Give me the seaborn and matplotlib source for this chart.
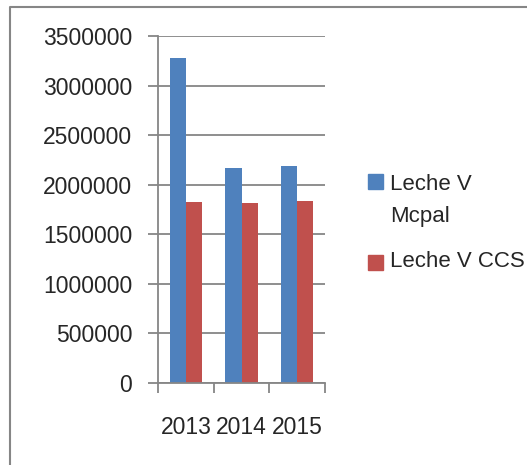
# Leche V - bar chart recreation

import pandas as pd
import matplotlib.pyplot as plt
import seaborn as sns
from matplotlib.patches import Rectangle
from matplotlib.lines import Line2D

# -----------------------------------
# DATA
# -----------------------------------

years = ["2013", "2014", "2015"]
series_names = ["Leche V Mcpal", "Leche V CCS"]
mcpal_values = [3282000, 2166000, 2190000]
ccs_values = [1830000, 1820000, 1836000]
legend_labels = ["Leche V\nMcpal", "Leche V CCS"]
colors = ["#4F81BD", "#C0504D"]

df = pd.DataFrame({
    "year": years * 2,
    "serie": [series_names[0]] * 3 + [series_names[1]] * 3,
    "value": mcpal_values + ccs_values,
})

# -----------------------------------
# STYLE
# -----------------------------------

sns.set_style("white")
plt.rcParams["font.family"] = ["Liberation Sans", "DejaVu Sans"]
grid_color = "#868686"
fs = 16.5
leg_fs = 16

W, H = 527, 465
fig = plt.figure(figsize=(W / 100, H / 100), dpi=100)
ax = fig.add_axes([158 / W, 1 - 383 / H, (325 - 158) / W, (383 - 36) / H])

# -----------------------------------
# BARS
# -----------------------------------

sns.barplot(data=df, x="year", y="value", hue="serie", order=years,
            hue_order=series_names, palette=colors, width=0.575, gap=0,
            saturation=1, linewidth=0, legend=False, ax=ax)

ax.set_ylim(0, 3500000)
ax.set_xlim(-0.5, 2.5)
ax.set_yticks(range(0, 3500001, 500000))
ax.set_yticklabels([str(v) for v in range(0, 3500001, 500000)], fontsize=fs)
ax.set_xticks(range(len(years)))
ax.set_xticklabels(years, fontsize=fs)
ax.set_xticks([-0.5, 0.5, 1.5, 2.5], minor=True)
ax.set_xlabel("")
ax.set_ylabel("")

ax.yaxis.grid(True, color=grid_color, linewidth=1.3)
ax.set_axisbelow(True)
for side in ["top", "right"]:
    ax.spines[side].set_visible(False)
for side in ["left", "bottom"]:
    ax.spines[side].set_color(grid_color)
    ax.spines[side].set_linewidth(1.3)

ax.tick_params(axis="y", which="major", length=7, width=1.3, color=grid_color,
               left=True, pad=11.5)
ax.tick_params(axis="x", which="major", length=0, pad=24)
ax.tick_params(axis="x", which="minor", length=7, width=1.3, color=grid_color,
               bottom=True)

# -----------------------------------
# LEGEND (Excel style, marker aligned with first line)
# -----------------------------------

for i, (lab, col) in enumerate(zip(legend_labels, colors)):
    top = [174, 255][i]
    fig.patches.append(Rectangle((368 / W, 1 - (top + 15) / H), 15 / W, 15 / H,
                                 transform=fig.transFigure, color=col))
fig.text(390 / W, 1 - 190 / H, "Leche V", fontsize=leg_fs, va="baseline")
fig.text(390 / W, 1 - 221.7 / H, "Mcpal", fontsize=leg_fs, va="baseline")
fig.text(390 / W, 1 - 266.7 / H, legend_labels[1], fontsize=leg_fs, va="baseline")

# -----------------------------------
# CHART BORDER
# -----------------------------------

fig.lines.append(Line2D([10 / W, 10 / W, 1], [0, 1 - 7 / H, 1 - 7 / H],
                        transform=fig.transFigure, color=grid_color, linewidth=1.5))

fig.savefig("out.png", dpi=100)
